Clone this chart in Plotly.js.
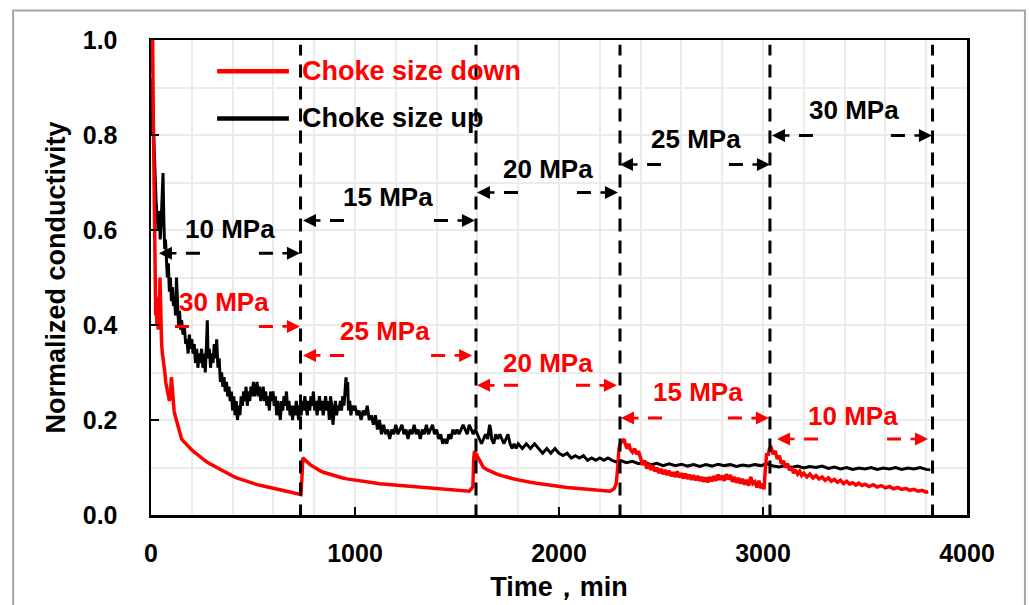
<!DOCTYPE html>
<html><head><meta charset="utf-8">
<script src="https://cdn.plot.ly/plotly-3.0.1.min.js"></script>
<style>html,body{margin:0;padding:0;background:#fff}#chart{width:1029px;height:605px}</style>
</head><body><div id="chart"></div>
<script>
// ---- data ----
const seriesNames = ["Choke size down", "Choke size up"];
const seriesColors = ["#ff0000", "#000000"];

const upTime = [0,4,8,12,16,20,25,30,35,40,45,50,55,59,63,67,71,75,80,85,90,95,100,105,110,115,120,125,130,135,140,145,150,157,163,170,176,182,188,194,200,206,212,218,224,230,236,242,248,254,260,266,272,276,280,286,292,298,304,310,316,322,328,334,340,346,352,358,364,370,376,382,388,394,400,406,412,418,424,430,436,442,448,454,460,466,472,478,484,490,496,502,508,514,520,526,532,538,544,550,556,562,568,574,580,586,592,598,604,610,616,622,628,634,640,646,652,658,664,670,676,682,688,694,700,706,712,718,724,730,736,742,748,754,760,766,772,778,784,790,796,802,808,814,820,826,832,838,844,850,856,862,868,874,880,886,892,898,904,910,916,922,928,934,940,946,952,956,960,964,968,974,980,986,992,1000,1010,1020,1030,1040,1050,1060,1070,1080,1090,1100,1110,1120,1130,1140,1150,1160,1170,1180,1190,1200,1210,1220,1230,1240,1250,1260,1270,1280,1290,1300,1310,1320,1330,1340,1350,1360,1370,1380,1390,1400,1410,1420,1430,1440,1450,1460,1470,1480,1490,1500,1510,1520,1530,1540,1550,1560,1570,1580,1590,1600,1610,1620,1630,1640,1650,1660,1665,1670,1680,1690,1700,1710,1720,1730,1740,1750,1760,1770,1780,1790,1800,1820,1840,1860,1880,1900,1920,1940,1960,1980,2000,2020,2040,2060,2080,2100,2120,2140,2160,2180,2200,2220,2240,2260,2280,2300,2330,2360,2390,2420,2450,2480,2510,2540,2570,2600,2630,2660,2690,2720,2750,2780,2810,2840,2870,2900,2930,2960,2990,3020,3050,3080,3110,3140,3170,3200,3230,3260,3290,3320,3350,3380,3410,3440,3470,3500,3530,3560,3590,3620,3650,3680,3710,3740,3770,3800,3820];
const upValue = [0.80,0.92,0.86,0.80,0.74,0.70,0.66,0.63,0.60,0.64,0.58,0.62,0.68,0.72,0.62,0.56,0.58,0.52,0.50,0.53,0.47,0.50,0.45,0.48,0.44,0.46,0.42,0.50,0.45,0.40,0.43,0.39,0.41,0.38,0.40,0.36,0.37,0.34,0.38,0.35,0.37,0.34,0.36,0.32,0.35,0.31,0.34,0.32,0.35,0.31,0.34,0.30,0.36,0.41,0.33,0.35,0.31,0.34,0.32,0.36,0.33,0.37,0.31,0.33,0.28,0.30,0.27,0.29,0.26,0.28,0.25,0.27,0.24,0.26,0.22,0.25,0.21,0.24,0.20,0.23,0.21,0.25,0.23,0.26,0.24,0.27,0.23,0.26,0.24,0.27,0.25,0.28,0.25,0.27,0.28,0.25,0.27,0.24,0.26,0.27,0.24,0.26,0.23,0.25,0.22,0.26,0.24,0.26,0.23,0.25,0.21,0.24,0.22,0.20,0.24,0.22,0.25,0.23,0.26,0.22,0.24,0.21,0.23,0.20,0.23,0.21,0.24,0.22,0.20,0.23,0.21,0.24,0.22,0.25,0.23,0.21,0.24,0.22,0.25,0.23,0.26,0.22,0.24,0.21,0.23,0.25,0.22,0.24,0.21,0.23,0.25,0.22,0.24,0.20,0.25,0.23,0.19,0.22,0.24,0.21,0.23,0.22,0.24,0.22,0.25,0.23,0.27,0.29,0.25,0.28,0.22,0.24,0.21,0.23,0.22,0.23,0.21,0.22,0.20,0.22,0.21,0.23,0.20,0.21,0.19,0.21,0.18,0.20,0.17,0.19,0.17,0.18,0.16,0.18,0.17,0.19,0.17,0.18,0.19,0.17,0.18,0.16,0.18,0.17,0.19,0.17,0.18,0.16,0.18,0.17,0.19,0.17,0.18,0.19,0.17,0.18,0.16,0.17,0.15,0.16,0.15,0.17,0.16,0.18,0.17,0.18,0.17,0.18,0.19,0.18,0.17,0.19,0.18,0.17,0.18,0.17,0.16,0.15,0.16,0.17,0.16,0.19,0.18,0.16,0.15,0.17,0.16,0.17,0.16,0.15,0.16,0.17,0.15,0.14,0.15,0.14,0.15,0.14,0.15,0.14,0.15,0.14,0.13,0.14,0.13,0.14,0.13,0.125,0.13,0.12,0.125,0.12,0.125,0.115,0.12,0.115,0.12,0.115,0.12,0.115,0.112,0.115,0.11,0.113,0.108,0.111,0.106,0.109,0.104,0.108,0.104,0.107,0.103,0.106,0.102,0.106,0.103,0.107,0.104,0.106,0.102,0.105,0.103,0.106,0.104,0.108,0.103,0.101,0.104,0.1,0.103,0.099,0.102,0.1,0.103,0.098,0.101,0.097,0.1,0.096,0.099,0.097,0.1,0.096,0.099,0.097,0.1,0.096,0.099,0.097,0.1,0.096,0.095];

const downTime = [0,4,8,11,14,17,20,23,26,29,32,35,38,41,44,46,49,52,56,60,64,68,72,76,80,85,90,95,100,104,108,113,118,124,130,136,142,150,160,170,180,190,205,220,240,260,280,300,320,340,360,380,400,420,440,460,480,500,520,540,560,580,600,620,640,660,680,700,720,735,740,744,750,760,770,780,790,800,815,830,845,860,880,900,920,940,960,980,1000,1030,1060,1090,1120,1150,1180,1210,1240,1270,1300,1330,1360,1390,1420,1450,1480,1510,1540,1560,1570,1578,1582,1586,1590,1594,1598,1605,1615,1630,1650,1670,1690,1710,1740,1770,1800,1830,1860,1890,1920,1950,1980,2010,2040,2070,2100,2130,2160,2190,2220,2250,2270,2280,2288,2294,2300,2310,2318,2326,2334,2342,2350,2360,2370,2380,2390,
  2400,2410,2420,2430,2440,2450,2460,2470,2480,2490,2500,2510,2520,2530,2540,2550,2560,2570,2580,2590,2600,2610,2620,2630,2640,2650,2660,2670,2680,2690,2700,2710,2720,2730,2740,2750,2760,2770,2780,2790,2800,2810,2820,2830,2840,2850,2860,2870,2880,2890,2900,2910,2920,2930,2940,2950,2960,2970,2980,2990,3000,3005,
  3012,3018,3025,3032,3040,3050,3060,3070,3080,3090,3100,3110,3120,3130,3140,3150,3160,3170,3180,3190,3200,3215,3230,3245,3260,3275,3290,3305,3320,3335,3350,3365,3380,3395,3410,3425,3440,3455,3470,3485,3500,3520,3540,3560,3580,3600,3620,3640,3660,3680,3700,3720,3740,3760,3780,3800,3810];
const downValue = [0.93,0.98,1.0,0.85,0.72,0.6,0.5,0.42,0.46,0.40,0.43,0.39,0.44,0.40,0.50,0.45,0.38,0.36,0.34,0.33,0.31,0.30,0.28,0.27,0.26,0.25,0.24,0.25,0.29,0.27,0.23,0.22,0.21,0.20,0.19,0.18,0.17,0.16,0.155,0.15,0.145,0.14,0.135,0.13,0.122,0.116,0.11,0.105,0.1,0.095,0.09,0.086,0.082,0.078,0.075,0.072,0.069,0.066,0.064,0.062,0.06,0.058,0.056,0.054,0.052,0.05,0.048,0.046,0.045,0.043,0.08,0.12,0.118,0.115,0.11,0.106,0.103,0.1,0.097,0.093,0.09,0.088,0.085,0.082,0.08,0.078,0.076,0.075,0.073,0.071,0.07,0.068,0.066,0.065,0.064,0.063,0.062,0.061,0.06,0.059,0.058,0.057,0.056,0.055,0.053,0.052,0.051,0.05,0.055,0.06,0.12,0.135,0.11,0.13,0.125,0.12,0.11,0.1,0.095,0.09,0.087,0.084,0.08,0.077,0.074,0.071,0.069,0.067,0.065,0.063,0.061,0.059,0.058,0.057,0.056,0.055,0.054,0.053,0.051,0.05,0.055,0.065,0.1,0.14,0.15,0.155,0.16,0.148,0.14,0.15,0.138,0.132,0.14,0.128,0.134,
  0.12,0.105,0.115,0.098,0.108,0.095,0.104,0.092,0.1,0.088,0.097,0.086,0.095,0.084,0.093,0.082,0.09,0.08,0.092,0.079,0.088,0.077,0.087,0.076,0.085,0.074,0.084,0.073,0.082,0.072,0.08,0.07,0.079,0.069,0.08,0.071,0.082,0.072,0.085,0.074,0.083,0.072,0.086,0.075,0.084,0.07,0.08,0.068,0.078,0.066,0.076,0.064,0.074,0.062,0.08,0.066,0.07,0.058,0.072,0.056,0.066,0.054,
  0.1,0.13,0.125,0.14,0.142,0.128,0.135,0.118,0.125,0.108,0.114,0.1,0.108,0.094,0.1,0.088,0.095,0.086,0.092,0.083,0.088,0.08,0.086,0.078,0.083,0.076,0.08,0.073,0.078,0.071,0.075,0.069,0.073,0.066,0.071,0.065,0.068,0.063,0.067,0.062,0.065,0.06,0.064,0.059,0.062,0.057,0.06,0.055,0.058,0.054,0.056,0.052,0.054,0.05,0.052,0.048,0.049];

// stage boundaries (min) and pressure labels
const stageBounds = [733, 1593, 2299, 3034, 3831];
const upLabels = ["10 MPa", "15 MPa", "20 MPa", "25 MPa", "30 MPa"];
const downLabels = ["30 MPa", "25 MPa", "20 MPa", "15 MPa", "10 MPa"];
// arrow spans and heights
const upArrowStart = [39, 745, 1598, 2299, 3044];
const upArrowEnd = [730, 1588, 2289, 3034, 3828];
const upArrowY = [0.551, 0.620, 0.679, 0.738, 0.799];
const upLabelX = [387, 1162, 1946, 2672, 3446];
const upLabelY = [0.603, 0.669, 0.728, 0.791, 0.852];
const downArrowStart = [-15, 745, 1598, 2304, 3069];
const downArrowEnd = [730, 1574, 2284, 3029, 3809];
const downArrowY = [0.397, 0.336, 0.273, 0.204, 0.160];
const downLabelX = [358, 1147, 1946, 2681, 3441];
const downLabelY = [0.448, 0.387, 0.320, 0.259, 0.208];

const xTickVals = [0, 1000, 2000, 3000, 4000];
const yTickVals = [0, 0.2, 0.4, 0.6, 0.8, 1.0];

// ---- chart ----
const FONT = "Liberation Sans, Arial, Helvetica, sans-serif";
const X_RANGE = [0, 4000];
const PLOT_W = 816;
const pxPerUnit = PLOT_W / (X_RANGE[1] - X_RANGE[0]);

const traces = [
  {x: upTime, y: upValue, type: 'scatter', mode: 'lines', name: seriesNames[1],
   line: {color: seriesColors[1], width: 3}, showlegend: false},
  {x: downTime, y: downValue, type: 'scatter', mode: 'lines', name: seriesNames[0],
   line: {color: seriesColors[0], width: 3.5}, showlegend: false}
];

const shapes = [];
const annotations = [];

// outer picture frame
shapes.push({type: 'rect', xref: 'paper', yref: 'paper', x0: -0.169, x1: 1.071, y0: -0.25, y1: 1.062,
  line: {color: '#a6a6a6', width: 2}, fillcolor: 'rgba(0,0,0,0)', layer: 'below'});

// stage boundary lines
stageBounds.forEach(b => shapes.push({type: 'line', xref: 'x', yref: 'y', x0: b, x1: b, y0: -0.005, y1: 0.99,
  line: {color: '#000', width: 3, dash: '13px,9px'}}));

function addArrow(x0, x1, y, color) {
  const L = (x1 - x0) * pxPerUnit;
  const gap = Math.max(L - 2 * 27 - 2 * 14, 1);
  shapes.push({type: 'line', xref: 'x', yref: 'y', x0: x0, x1: x1, y0: y, y1: y,
    line: {color: color, width: 3, dash: `0px,27px,14px,${gap}px,14px,100px`}});
  annotations.push({x: x0, y: y, xref: 'x', yref: 'y', text: '', showarrow: true, ax: 19, ay: 0,
    arrowhead: 2, arrowsize: 1, arrowwidth: 2.6, arrowcolor: color, standoff: 0});
  annotations.push({x: x1, y: y, xref: 'x', yref: 'y', text: '', showarrow: true, ax: -19, ay: 0,
    arrowhead: 2, arrowsize: 1, arrowwidth: 2.6, arrowcolor: color, standoff: 0});
}
for (let i = 0; i < 5; i++) {
  addArrow(upArrowStart[i], upArrowEnd[i], upArrowY[i], seriesColors[1]);
  addArrow(downArrowStart[i], downArrowEnd[i], downArrowY[i], seriesColors[0]);
  annotations.push({x: upLabelX[i], y: upLabelY[i], xref: 'x', yref: 'y', text: upLabels[i], showarrow: false,
    font: {family: FONT, size: 26, color: seriesColors[1], weight: 'bold'}});
  annotations.push({x: downLabelX[i], y: downLabelY[i], xref: 'x', yref: 'y', text: downLabels[i], showarrow: false,
    font: {family: FONT, size: 26, color: seriesColors[0], weight: 'bold'}});
}

// custom legend
const legendY = [0.934, 0.835];
for (let i = 0; i < 2; i++) {
  shapes.push({type: 'line', xref: 'x', yref: 'y', x0: 324, x1: 676, y0: legendY[i], y1: legendY[i],
    line: {color: seriesColors[i], width: 4.5}});
  annotations.push({x: 730, y: legendY[i], xref: 'x', yref: 'y', xanchor: 'left', text: seriesNames[i],
    showarrow: false, font: {family: FONT, size: 27, color: seriesColors[i], weight: 'bold'}});
}

const layout = {
  width: 1029, height: 605,
  margin: {l: 151, r: 62, t: 40, b: 90},
  paper_bgcolor: '#fff', plot_bgcolor: '#fff',
  font: {family: FONT, size: 25, color: '#000', weight: 'bold'},
  showlegend: false,
  xaxis: {
    range: X_RANGE, tickvals: xTickVals, ticktext: xTickVals.map(String),
    ticks: 'inside', ticklen: 8, tickwidth: 2.5, tickcolor: '#000',
    showline: true, linecolor: '#000', linewidth: 2.5, mirror: true,
    showgrid: true, gridcolor: '#ebebeb', gridwidth: 2, zeroline: false,
    minor: {dtick: 200, showgrid: true, gridcolor: '#ebebeb', gridwidth: 2, ticks: ''},
    ticklabelstandoff: 14,
    tickfont: {family: FONT, size: 25, weight: 'bold'},
    title: {text: 'Time，min', font: {family: FONT, size: 27, weight: 'bold'}, standoff: 12}
  },
  yaxis: {
    range: [0, 1], tickvals: yTickVals, tickformat: '.1f',
    ticks: 'inside', ticklen: 8, tickwidth: 2.5, tickcolor: '#000',
    showline: true, linecolor: '#000', linewidth: 2.5, mirror: true,
    showgrid: true, gridcolor: '#ebebeb', gridwidth: 2, zeroline: false,
    minor: {dtick: 0.1, showgrid: true, gridcolor: '#ebebeb', gridwidth: 2, ticks: ''},
    ticklabelstandoff: 26,
    tickfont: {family: FONT, size: 25, weight: 'bold'},
    title: {text: 'Normalized conductivity', font: {family: FONT, size: 27, weight: 'bold'}, standoff: 10}
  },
  shapes: shapes,
  annotations: annotations
};

Plotly.newPlot('chart', traces, layout, {staticPlot: true, displayModeBar: false});
</script>
</body></html>
